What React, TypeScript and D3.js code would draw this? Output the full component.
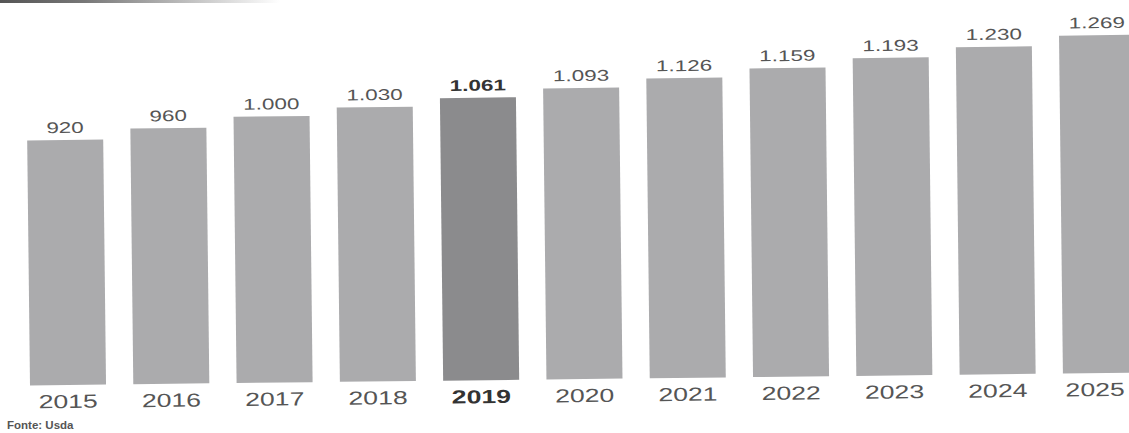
import React from "react";
import * as d3 from "d3";

const years = ["2015", "2016", "2017", "2018", "2019", "2020", "2021", "2022", "2023", "2024", "2025"];
const values = [920, 960, 1000, 1030, 1061, 1093, 1126, 1159, 1193, 1230, 1269];
const valueLabels = ["920", "960", "1.000", "1.030", "1.061", "1.093", "1.126", "1.159", "1.193", "1.230", "1.269"];
const highlightYear = "2019";
const sourceText = "Fonte: Usda";

const W = 1129;
const H = 433;
const baseY = 385;
const angle = -0.66;

export default function App() {
  const x = d3.scaleBand<string>().domain(years).range([30, 30 + 11 * 103.3 - 27.3]).paddingInner(0.264).paddingOuter(0);
  const y = d3.scaleLinear().domain([0, 1000]).range([baseY, baseY - 266.3]);
  const cx0 = (x(years[0]) as number) + x.bandwidth() / 2;
  const font = "Arial, 'Liberation Sans', Helvetica, sans-serif";
  return (
    <svg width={W} height={H} style={{ position: "absolute", left: 0, top: 0, background: "#fff" }}>
      <defs>
        <linearGradient id="topstrip" x1="0" x2="1" y1="0" y2="0">
          <stop offset="0" stopColor="#555" />
          <stop offset="0.3" stopColor="#777" />
          <stop offset="1" stopColor="#fff" />
        </linearGradient>
      </defs>
      <rect x={0} y={0} width={280} height={3} fill="url(#topstrip)" />
      <g transform={`rotate(${angle},${cx0},${baseY})`}>
        {years.map((yr, i) => {
          const bx = x(yr) as number;
          const hl = yr === highlightYear;
          const cx = bx + x.bandwidth() / 2;
          const lx = Math.min(cx, W - 34);
          return (
            <g key={yr}>
              <rect
                x={bx}
                y={y(values[i])}
                width={x.bandwidth()}
                height={baseY - y(values[i])}
                fill={hl ? "#8b8b8d" : "#ababad"}
              />
              <text
                transform={`translate(${cx},${y(values[i]) - 7}) scale(1.45,1)`}
                textAnchor="middle"
                fontFamily={font}
                fontSize={15.5}
                fontWeight={hl ? 700 : 400}
                fill={hl ? "#333" : "#555"}
              >
                {valueLabels[i]}
              </text>
              <text
                transform={`translate(${lx},${baseY + 23}) scale(1.4,1)`}
                textAnchor="middle"
                fontFamily={font}
                fontSize={19}
                fontWeight={hl ? 700 : 400}
                fill={hl ? "#333" : "#555"}
              >
                {yr}
              </text>
            </g>
          );
        })}
      </g>
      <text x={7} y={429} fontFamily={font} fontSize={11.5} fontWeight={700} fill="#555">
        {sourceText}
      </text>
    </svg>
  );
}
